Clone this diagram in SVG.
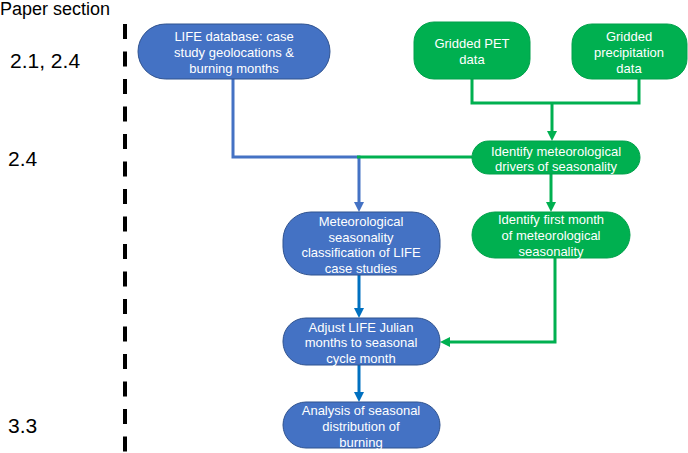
<svg xmlns="http://www.w3.org/2000/svg" width="688" height="453" viewBox="0 0 688 453">
<style>
text{font-family:"Liberation Sans",Arial,sans-serif}
.lbl{fill:#000}
.nt{font-size:13px;fill:#fff;text-anchor:middle}
.blue{fill:#4472C4;stroke:#2F528F;stroke-width:1}
.green{fill:#00B050;stroke:#00A04A;stroke-width:1}
.cb{fill:none;stroke:#4472C4;stroke-width:3}
.cb2{fill:none;stroke:#0070C0;stroke-width:3}
.cg{fill:none;stroke:#00B050;stroke-width:3}
</style>
<defs>
<marker id="ab" viewBox="0 0 10 10" refX="0" refY="5" markerUnits="userSpaceOnUse" markerWidth="10" markerHeight="11" orient="auto"><path d="M0,0 L10,5 L0,10 z" fill="#4472C4"/></marker>
<marker id="ab2" viewBox="0 0 10 10" refX="0" refY="5" markerUnits="userSpaceOnUse" markerWidth="10" markerHeight="11" orient="auto"><path d="M0,0 L10,5 L0,10 z" fill="#0070C0"/></marker>
<marker id="ag" viewBox="0 0 10 10" refX="0" refY="5" markerUnits="userSpaceOnUse" markerWidth="10" markerHeight="11" orient="auto"><path d="M0,0 L10,5 L0,10 z" fill="#00B050"/></marker>
</defs>
<rect width="688" height="453" fill="#fff"/>
<g id="labels">
<text class="lbl" x="0" y="15" font-size="18">Paper section</text>
<text class="lbl" x="10" y="68" font-size="21">2.1, 2.4</text>
<text class="lbl" x="8" y="166" font-size="21">2.4</text>
<text class="lbl" x="8" y="433" font-size="21">3.3</text>
<line x1="125" y1="24" x2="125" y2="453" stroke="#000" stroke-width="4" stroke-dasharray="15 12.5"/>
</g>
<g id="connectors">
<path class="cb" d="M233 79 V157 H359 V202" marker-end="url(#ab)"/>
<path class="cg" d="M472 79 V103 H639 V79"/>
<path class="cg" d="M552 103 V131" marker-end="url(#ag)"/>
<path class="cg" d="M472 157 H357"/>
<path class="cg" d="M551 174 V202" marker-end="url(#ag)"/>
<path class="cg" d="M555 258 V342 H450" marker-end="url(#ag)"/>
<path class="cb2" d="M359 275 V308" marker-end="url(#ab2)"/>
<path class="cb2" d="M359 365 V392" marker-end="url(#ab2)"/>
</g>
<g id="life">
<rect class="blue" x="138" y="24" width="192" height="55" rx="27.5"/>
<text class="nt" x="234" y="41">LIFE database: case</text>
<text class="nt" x="234" y="57">study geolocations &amp;</text>
<text class="nt" x="234" y="73">burning months</text>
</g>
<g id="pet">
<rect class="green" x="414" y="22" width="116" height="57" rx="20"/>
<text class="nt" x="472" y="48">Gridded PET</text>
<text class="nt" x="472" y="64">data</text>
</g>
<g id="precip">
<rect class="green" x="572" y="24" width="115" height="55" rx="20"/>
<text class="nt" x="629" y="41">Gridded</text>
<text class="nt" x="629" y="57">precipitation</text>
<text class="nt" x="629" y="73">data</text>
</g>
<g id="drivers">
<rect class="green" x="472" y="141" width="168" height="33" rx="16.5"/>
<text class="nt" x="556" y="155.5">Identify meteorological</text>
<text class="nt" x="556" y="171">drivers of seasonality</text>
</g>
<g id="classification">
<rect class="blue" x="283" y="212" width="157" height="63" rx="28"/>
<text class="nt" x="361" y="226">Meteorological</text>
<text class="nt" x="361" y="242">seasonality</text>
<text class="nt" x="361" y="257">classification of LIFE</text>
<text class="nt" x="361" y="273">case studies</text>
</g>
<g id="firstmonth">
<rect class="green" x="472" y="212" width="158" height="46" rx="23"/>
<text class="nt" x="551" y="224">Identify first month</text>
<text class="nt" x="551" y="240">of meteorological</text>
<text class="nt" x="551" y="256">seasonality</text>
</g>
<g id="adjust">
<rect class="blue" x="283" y="318" width="157" height="47" rx="23"/>
<text class="nt" x="361" y="332">Adjust LIFE Julian</text>
<text class="nt" x="361" y="347">months to seasonal</text>
<text class="nt" x="361" y="363">cycle month</text>
</g>
<g id="analysis">
<rect class="blue" x="283" y="402" width="157" height="46" rx="23"/>
<text class="nt" x="361" y="415">Analysis of seasonal</text>
<text class="nt" x="361" y="431">distribution of</text>
<text class="nt" x="361" y="447">burning</text>
</g>
</svg>
